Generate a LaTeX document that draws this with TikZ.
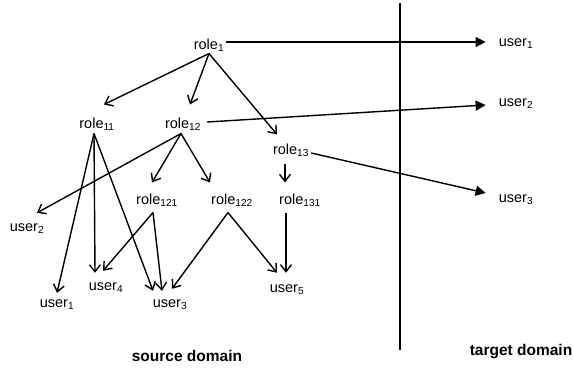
\documentclass[tikz,border=0pt]{standalone}
\usepackage{fontspec}
\setmainfont{Liberation Sans}
\usetikzlibrary{arrows.meta}
\newcommand{\subs}[1]{\textsubscript{#1}}

\begin{document}
\begin{tikzpicture}[x=1pt,y=-1pt,
    lbl/.style={font=\fontsize{14.5}{17}\selectfont, inner sep=2pt},
    domainlbl/.style={font=\fontsize{15.5}{18}\selectfont\bfseries, inner sep=0pt},
    tree/.style={line width=1.4pt, -{Straight Barb[length=7pt,width=11pt]}},
    map/.style={line width=1.4pt, -{Triangle[length=10pt,width=10pt]}}]
\useasboundingbox (0,0) rectangle (573,369);

% Rollen (Quelldomaene)
\foreach \name/\x/\y/\text in {
    role1/209/45/{role\subs{1}},
    role11/97/124/{role\subs{11}},
    role12/183/124/{role\subs{12}},
    role13/291/150/{role\subs{13}},
    role121/157/200/{role\subs{121}},
    role122/232/200/{role\subs{122}},
    role131/300/200/{role\subs{131}}} {
    \node[lbl] (\name) at (\x,\y) {\text};
}

% Benutzer (Quelldomaene)
\foreach \name/\x/\y/\text in {
    user2L/27/229/{user\subs{2}},
    user1L/57/305/{user\subs{1}},
    user4/106/288/{user\subs{4}},
    user3/170/305/{user\subs{3}},
    user5/287/290/{user\subs{5}}} {
    \node[lbl] (\name) at (\x,\y) {\text};
}

% Benutzer (Zieldomaene)
\foreach \name/\y/\text in {
    user1R/44/{user\subs{1}},
    user2R/104/{user\subs{2}},
    user3R/200/{user\subs{3}}} {
    \node[lbl] (\name) at (516,\y) {\text};
}

% Domaenengrenze
\coordinate (top) at (400,3);
\coordinate (bottom) at (400,350);
\draw[line width=1.3pt] (top) -- (bottom);
\node[domainlbl] (source) at (187,356) {source domain};
\node[domainlbl] (target) at (521,352) {target domain};

% Hierarchie
\foreach \a/\sa/\b/\sb in {
    role1/{(0,0)}/role11/{(7,-11)},
    role1/{(0,0)}/role12/{(7,-11)},
    role1/{(0,0)}/role13/{(-14,-7)},
    role12/{(-2,1)}/user2L/{(10,-9)},
    role12/{(-2,1)}/role121/{(-5,-9)},
    role12/{(-2,1)}/role122/{(-22,-9)},
    role11/{(-3,1)}/user1L/{(0,-5)},
    role11/{(-3,1)}/user4/{(-11,-8)},
    role11/{(-3,1)}/user3/{(-17,-7)},
    role121/{(-4,4)}/user4/{(-3,-10)},
    role121/{(-4,4)}/user3/{(-8,-7)},
    role122/{(-4,4)}/user3/{(2,-9)},
    role122/{(-4,4)}/user5/{(-10,-10)},
    role13/{(-6,5)}/role131/{(-15,-9)},
    role131/{(-14,4)}/user5/{(-1,-10)}} {
    \draw[tree] ([shift={\sa}]\a.south) -- ([shift={\sb}]\b.north);
}

% Abbildung in die Zieldomaene
\foreach \a/\sa/\b/\sb in {
    role1/{(0,-3)}/user1R/{(-11,-2)},
    role12/{(4,-2)}/user2R/{(-11,1)},
    role13/{(0,3)}/user3R/{(-11,-7)}} {
    \draw[map] ([shift={\sa}]\a.east) -- ([shift={\sb}]\b.west);
}
\end{tikzpicture}
\end{document}
